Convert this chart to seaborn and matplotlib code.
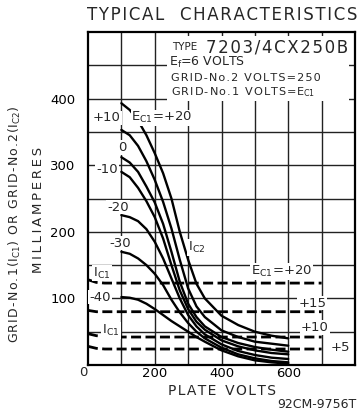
import numpy as np
import pandas as pd
import matplotlib
matplotlib.use("Agg")
import matplotlib.pyplot as plt
from matplotlib.patches import Rectangle
import seaborn as sns

# ---- data -------------------------------------------------------------
plate_volts = [100, 125, 150, 175, 200, 225, 250, 275, 300, 325, 350, 400, 450, 500, 550, 600]
ic2_ec1_p20 = [393, 383, 367, 345, 318, 288, 250, 200, 158, 122, 100, 74, 60, 50, 44, 40]
ic2_ec1_p10 = [353, 345, 329, 306, 278, 245, 205, 158, 115, 88, 72, 52, 42, 35, 32, 29]
ic2_ec1_0 = [312, 304, 290, 268, 244, 212, 170, 125, 92, 72, 58, 42, 33, 27, 23, 20]
ic2_ec1_m10 = [290, 282, 266, 246, 222, 190, 150, 112, 84, 65, 53, 37, 28, 22, 18, 16]
ic2_ec1_m20 = [225, 222, 216, 204, 185, 160, 130, 100, 75, 58, 46, 31, 21, 15, 11, 9]
ic2_ec1_m30 = [170, 167, 160, 150, 137, 120, 98, 79, 63, 50, 40, 26, 16, 10, 6, 4]
ic2_ec1_m40 = [102, 101, 98, 92, 84, 75, 66, 58, 50, 42, 35, 22, 13, 7, 4, 2]

ic1_volts = [0, 25, 50, 100, 200, 300, 400, 500, 600, 700]
ic1_ec1_p20 = [128, 124, 123, 123, 123, 123, 123, 123, 123, 123]
ic1_ec1_p15 = [82, 80, 80, 80, 80, 80, 80, 80, 80, 80]
ic1_ec1_p10 = [47, 44, 43, 42, 42, 42, 42, 42, 42, 42]
ic1_ec1_p5 = [28, 25, 24, 24, 24, 24, 24, 24, 24, 24]

x_ticks = [200, 400, 600]
y_ticks = [100, 200, 300, 400]

# ---- style ------------------------------------------------------------
sns.set_style("white")
plt.rcParams["font.family"] = ["DejaVu Sans"]
plt.rcParams["mathtext.fontset"] = "dejavusans"


def sp(s, n=1):
    return ("\u200a" * n).join(s)


fig = plt.figure(figsize=(3.6, 4.12), dpi=100)
ax = fig.add_axes([88 / 360, 1 - 365 / 412, (355 - 88) / 360, (365 - 32) / 412])

ax.set_xlim(0, 800)
ax.set_ylim(0, 500)

# grid
for v in range(100, 800, 100):
    ax.axvline(v, color="#222222", lw=1.0, zorder=0.5)
for m in range(50, 500, 50):
    ax.axhline(m, color="#222222", lw=1.0, zorder=0.5)

# white box behind heading text
ax.add_patch(Rectangle((238, 397), 545, 97, facecolor="white", edgecolor="none", zorder=1))

for vals in [ic2_ec1_p20, ic2_ec1_p10, ic2_ec1_0, ic2_ec1_m10,
             ic2_ec1_m20, ic2_ec1_m30, ic2_ec1_m40]:
    sns.lineplot(x=plate_volts, y=vals, ax=ax, color="black", lw=1.7, zorder=2)

for vals in [ic1_ec1_p20, ic1_ec1_p15, ic1_ec1_p10, ic1_ec1_p5]:
    sns.lineplot(x=ic1_volts, y=vals, ax=ax, color="black", lw=2.0,
                 linestyle=(0, (3.6, 1.6)), zorder=2)

for s in ax.spines.values():
    s.set_color("black")
    s.set_linewidth(1.6)
    s.set_visible(True)

ax.set_xticks(x_ticks)
ax.set_yticks(y_ticks)
ax.set_xticklabels([str(t) for t in x_ticks])
ax.set_yticklabels([str(t) for t in y_ticks])
ax.tick_params(axis="x", length=0, labelsize=9.5, pad=1.5, colors="black")
ax.tick_params(axis="y", length=0, labelsize=9.5, pad=9, colors="black")
ax.set_xlabel("")
ax.set_ylabel("")

# corner zero
fig.text(83 / 360, 1 - 373 / 412, "0", ha="center", va="center", fontsize=9.5)

bb = dict(facecolor="white", edgecolor="none", pad=0.6)
lab = dict(ha="center", va="center", fontsize=9.5, zorder=3)
ax.text(57, 371, "+10", bbox=bb, **lab)
ax.text(222, 371, r"E$_{\rm C1}$=+20", bbox=bb, **lab)
ax.text(102, 327, "0", bbox=bb, **lab)
ax.text(57, 293, "-10", bbox=bb, **lab)
ax.text(90, 237, "-20", bbox=bb, **lab)
ax.text(96, 183, "-30", bbox=bb, **lab)
ax.text(36, 102, "-40", bbox=bb, **lab)
ax.text(325, 176, r"I$_{\rm C2}$", bbox=bb, **lab)
ax.text(42, 138, r"I$_{\rm C1}$", bbox=bb, **lab)
ax.text(69, 52, r"I$_{\rm C1}$", bbox=bb, **lab)
ax.text(580, 140, r"E$_{\rm C1}$=+20", bbox=bb, **lab)
ax.text(672, 93, "+15", bbox=bb, **lab)
ax.text(680, 56, "+10", bbox=bb, **lab)
ax.text(755, 27, "+5", bbox=bb, **lab)

# heading text inside the plot
ax.text(252, 477, "TYPE", ha="left", va="center", fontsize=7.5, zorder=3)
ax.text(355, 476, sp("7203/4CX250B"), ha="left", va="center", fontsize=12, zorder=3)
ax.text(242, 455, r"E$_{\rm f}$=6 VOLTS", ha="left", va="center", fontsize=9, zorder=3)
ax.text(248, 431, sp("GRID-No.2 VOLTS=250"), ha="left", va="center", fontsize=8.1, zorder=3)
ax.text(248, 410, sp("GRID-No.1 VOLTS=") + r"E$_{\rm C1}$", ha="left", va="center",
        fontsize=8.1, zorder=3)

# title and axis labels
fig.text(222 / 360, 1 - 15 / 412, sp("TYPICAL") + "   " + sp("CHARACTERISTICS"),
         ha="center", va="center", fontsize=12)
fig.text(222 / 360, 1 - 391 / 412, sp("PLATE") + "  " + sp("VOLTS"), ha="center",
         va="center", fontsize=10)
fig.text(357 / 360, 1 - 405 / 412, "92CM-9756T", ha="right", va="center", fontsize=9)
fig.text(15 / 360, 1 - 224 / 412,
         sp("GRID-No.1(") + r"I$_{\rm C1}$" + sp(") OR GRID-No.2(") + r"I$_{\rm C2}$)",
         ha="center", va="center", rotation=90, fontsize=9)
fig.text(38 / 360, 1 - 210 / 412, sp("MILLIAMPERES", 2), ha="center", va="center",
         rotation=90, fontsize=9.5)

fig.savefig("out.png", dpi=100, facecolor="white")
